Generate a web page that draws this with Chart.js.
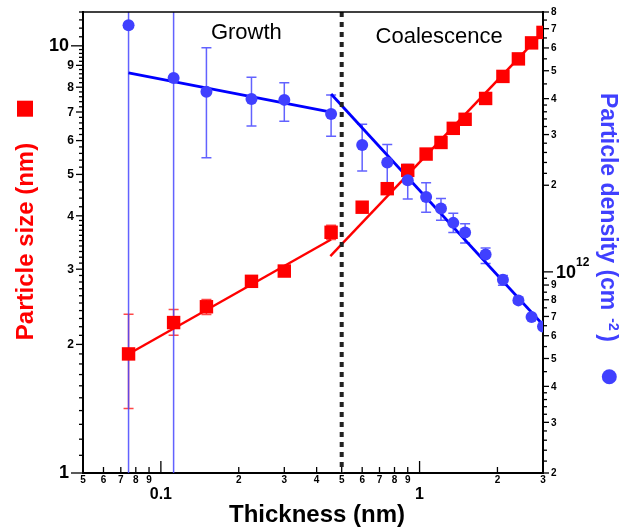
<!DOCTYPE html>
<html>
<head>
<meta charset="utf-8">
<script src="https://cdn.jsdelivr.net/npm/chart.js@4.4.1/dist/chart.umd.min.js"></script>
<style>
  html, body { margin: 0; padding: 0; background: #fff; }
</style>
</head>
<body>
<canvas id="chart" width="635" height="531"></canvas>
<script>
// Thickness (nm) - shared by both series
const thickness = [0.075, 0.112, 0.15, 0.224, 0.3, 0.455, 0.6, 0.75, 0.9, 1.06, 1.21, 1.35, 1.5, 1.8, 2.1, 2.41, 2.71, 3.0];

// Particle size (nm), left axis
const sizeValues = [1.9, 2.25, 2.45, 2.81, 2.97, 3.66, 4.19, 4.63, 5.11, 5.58, 5.94, 6.41, 6.73, 7.53, 8.48, 9.32, 10.16, 10.75];
const sizeErrLow = [1.415, 2.10, 2.35, 2.76, 2.93, 3.52, null, null, null, null, null, null, null, null, null, null, null, null];
const sizeErrHigh = [2.353, 2.413, 2.547, 2.86, 3.02, 3.80, null, null, null, null, null, null, null, null, null, null, null, null];

// Particle density (cm^-2), right axis
const densityValues = [7.19e12, 4.72e12, 4.23e12, 3.99e12, 3.96e12, 3.54e12, 2.76e12, 2.40e12, 2.08e12, 1.82e12, 1.66e12, 1.48e12, 1.37e12, 1.15e12, 9.38e11, 7.96e11, 6.97e11, 6.46e11];
const densityErrLow = [1e10, 1e10, 2.49e12, 3.21e12, 3.34e12, 2.96e12, 2.24e12, 2.02e12, 1.79e12, 1.61e12, 1.51e12, 1.37e12, 1.26e12, 1.07e12, 8.98e11, 7.8e11, null, null];
const densityErrHigh = [1e15, 1e15, 6.01e12, 4.75e12, 4.54e12, 4.12e12, 3.26e12, 2.77e12, 2.36e12, 2.04e12, 1.80e12, 1.60e12, 1.47e12, 1.21e12, 9.71e11, 8.15e11, null, null];

// Power-law fits (end points)
const sizeFitGrowthX = [0.075, 0.455];
const sizeFitGrowthY = [1.9, 3.52];
const sizeFitCoalX = [0.452, 3.0];
const sizeFitCoalY = [3.22, 10.75];
const densFitGrowthX = [0.075, 0.455];
const densFitGrowthY = [4.92e12, 3.59e12];
const densFitCoalX = [0.455, 3.0];
const densFitCoalY = [4.15e12, 6.55e11];

// Boundary between regimes and region labels
const boundary = 0.5;
const regionLabels = ['Growth', 'Coalescence'];
const regionLabelX = [0.214, 1.19];

// Tick values
const xDecades = [0.1, 1];
const xLabeled = [0.05, 0.06, 0.07, 0.08, 0.09, 0.2, 0.3, 0.4, 0.5, 0.6, 0.7, 0.8, 0.9, 2, 3];
const sizeDecades = [1, 10];
const sizeLabeled = [2, 3, 4, 5, 6, 7, 8, 9];
const sizeMinor = [1.1, 1.2, 1.3, 1.4, 1.5, 1.6, 1.7, 1.8, 1.9, 2.1, 2.2, 2.3, 2.4, 2.5, 2.6, 2.7, 2.8, 2.9,
  3.1, 3.2, 3.3, 3.4, 3.5, 3.6, 3.7, 3.8, 3.9, 4.2, 4.4, 4.6, 4.8, 5.2, 5.4, 5.6, 5.8, 6.2, 6.4, 6.6, 6.8,
  7.2, 7.4, 7.6, 7.8, 8.2, 8.4, 8.6, 8.8, 9.2, 9.4, 9.6, 9.8, 10.5, 11, 11.5, 12];
const densDecades = [1e12];
const densLabeled = [2e11, 3e11, 4e11, 5e11, 6e11, 7e11, 8e11, 9e11, 2e12, 3e12, 4e12, 5e12, 6e12, 7e12, 8e12];
const densMinorMant = [2.2, 2.4, 2.6, 2.8, 3.2, 3.4, 3.6, 3.8, 4.5, 5.5, 6.5, 7.5, 8.5, 9.5];

const RED = '#ff0000';
const BLUE = '#4040ff';
const FONT = '"Liberation Sans", Arial, sans-serif';

const pts = (xs, ys) => xs.map((x, i) => ({ x: x, y: ys[i] }));

function drawErrorBars(chart, scaleY, lo, hi, color) {
    const { ctx, chartArea: a } = chart;
    const sx = chart.scales.x;
    ctx.save();
    ctx.beginPath();
    ctx.rect(a.left, a.top, a.right - a.left, a.bottom - a.top);
    ctx.clip();
    ctx.strokeStyle = color;
    ctx.lineWidth = 1.5;
    thickness.forEach((t, i) => {
        if (lo[i] == null) return;
        const px = sx.getPixelForValue(t);
        const y1 = scaleY.getPixelForValue(lo[i]);
        const y2 = scaleY.getPixelForValue(hi[i]);
        ctx.beginPath();
        ctx.moveTo(px, y1); ctx.lineTo(px, y2);
        ctx.moveTo(px - 5, y1); ctx.lineTo(px + 5, y1);
        ctx.moveTo(px - 5, y2); ctx.lineTo(px + 5, y2);
        ctx.stroke();
    });
    ctx.restore();
}

function line(ctx, x1, y1, x2, y2) {
    ctx.beginPath();
    ctx.moveTo(x1, y1);
    ctx.lineTo(x2, y2);
    ctx.stroke();
}

const decorPlugin = {
    id: 'decor',
    beforeDatasetsDraw(chart) {
        drawErrorBars(chart, chart.scales.y, sizeErrLow, sizeErrHigh, 'rgba(255,40,40,0.85)');
        drawErrorBars(chart, chart.scales.y2, densityErrLow, densityErrHigh, 'rgba(70,70,255,0.85)');
    },
    afterDatasetsDraw(chart) {
        const { ctx, chartArea: a, scales } = chart;
        // regime boundary
        const bx = scales.x.getPixelForValue(boundary);
        ctx.save();
        ctx.strokeStyle = '#222';
        ctx.lineWidth = 4;
        ctx.setLineDash([5, 5]);
        line(ctx, bx, a.top, bx, a.bottom);
        ctx.restore();
    },
    afterDraw(chart) {
        const { ctx, chartArea: a, scales } = chart;
        const sx = scales.x, sy = scales.y, sy2 = scales.y2;
        ctx.save();
        ctx.strokeStyle = '#000';
        ctx.fillStyle = '#000';

        // top frame
        ctx.lineWidth = 1.5;
        line(ctx, a.left, a.top, a.right, a.top);

        ctx.lineWidth = 1.3;
        // x ticks (inward)
        ctx.textAlign = 'center';
        ctx.textBaseline = 'middle';
        ctx.font = 'bold 10px ' + FONT;
        xLabeled.forEach(v => {
            const p = sx.getPixelForValue(v);
            line(ctx, p, a.bottom, p, a.bottom - 6);
            const m = Math.round(v / Math.pow(10, Math.floor(Math.log10(v) + 1e-9)));
            ctx.fillText(String(m), p, a.bottom + 7);
        });
        ctx.font = 'bold 16px ' + FONT;
        xDecades.forEach(v => {
            const p = sx.getPixelForValue(v);
            line(ctx, p, a.bottom, p, a.bottom - 12);
            ctx.fillText(String(v), p, a.bottom + 22);
        });

        // left ticks
        ctx.textAlign = 'right';
        sizeMinor.forEach(v => {
            const p = sy.getPixelForValue(v);
            line(ctx, a.left - 4, p, a.left, p);
        });
        ctx.font = 'bold 12px ' + FONT;
        sizeLabeled.forEach(v => {
            const p = sy.getPixelForValue(v);
            line(ctx, a.left - 7, p, a.left, p);
            ctx.fillText(String(v), a.left - 9, p + 0.5);
        });
        ctx.font = 'bold 18px ' + FONT;
        sizeDecades.forEach(v => {
            const p = sy.getPixelForValue(v);
            line(ctx, a.left - 12, p, a.left, p);
            ctx.fillText(String(v), a.left - 14, p + 0.5);
        });

        // right ticks
        ctx.textAlign = 'left';
        [1e11, 1e12].forEach(dec => {
            densMinorMant.forEach(m => {
                const v = m * dec;
                if (v < sy2.min || v > sy2.max) return;
                const p = sy2.getPixelForValue(v);
                line(ctx, a.right, p, a.right + 4, p);
            });
        });
        ctx.font = 'bold 10px ' + FONT;
        densLabeled.forEach(v => {
            const p = sy2.getPixelForValue(v);
            line(ctx, a.right, p, a.right + 6, p);
            const m = Math.round(v / Math.pow(10, Math.floor(Math.log10(v) + 1e-9)));
            ctx.fillText(String(m), a.right + 8, p + 0.5);
        });
        densDecades.forEach(v => {
            const p = sy2.getPixelForValue(v);
            line(ctx, a.right, p, a.right + 10, p);
            ctx.font = 'bold 18px ' + FONT;
            ctx.fillText('10', a.right + 13, p + 1);
            ctx.font = 'bold 12px ' + FONT;
            ctx.fillText(String(Math.round(Math.log10(v))), a.right + 33, p - 9);
        });

        // region labels
        ctx.textAlign = 'center';
        ctx.textBaseline = 'alphabetic';
        ctx.font = '22px ' + FONT;
        ctx.fillText(regionLabels[0], sx.getPixelForValue(regionLabelX[0]), a.top + 27);
        ctx.fillText(regionLabels[1], sx.getPixelForValue(regionLabelX[1]), a.top + 31);

        // x title
        ctx.font = 'bold 24px ' + FONT;
        ctx.fillText('Thickness (nm)', 317, 522);

        // left title with marker
        ctx.fillStyle = RED;
        ctx.save();
        ctx.translate(33, 241.5);
        ctx.rotate(-Math.PI / 2);
        ctx.fillText('Particle size (nm)', 0, 0);
        ctx.restore();
        ctx.fillRect(17, 100.7, 16, 16);

        // right title with marker
        ctx.fillStyle = BLUE;
        ctx.save();
        ctx.translate(601, 93);
        ctx.rotate(Math.PI / 2);
        ctx.textAlign = 'left';
        ctx.font = 'bold 23px ' + FONT;
        const main = 'Particle density (cm';
        ctx.fillText(main, 0, 0);
        const w = ctx.measureText(main).width;
        ctx.font = 'bold 14px ' + FONT;
        ctx.fillText('-2', w + 8, -8);
        const w2 = ctx.measureText('-2').width;
        ctx.font = 'bold 23px ' + FONT;
        ctx.fillText(' )', w + 8 + w2 - 3, 0);
        ctx.restore();
        ctx.beginPath();
        ctx.arc(609.3, 376.7, 7.5, 0, Math.PI * 2);
        ctx.fill();

        ctx.restore();
    }
};

const axisBase = {
    type: 'logarithmic',
    grid: { display: false },
    ticks: { display: false },
    border: { display: true, color: '#000', width: 2 }
};

const chart = new Chart(document.getElementById('chart'), {
    type: 'scatter',
    data: {
        datasets: [
            {
                label: 'Particle density',
                data: pts(thickness, densityValues),
                yAxisID: 'y2',
                pointStyle: 'circle',
                pointRadius: 6,
                backgroundColor: BLUE,
                borderWidth: 0
            },
            {
                label: 'Particle size',
                data: pts(thickness, sizeValues),
                yAxisID: 'y',
                pointStyle: 'rect',
                pointRadius: 9.5,
                backgroundColor: RED,
                borderWidth: 0
            },
            {
                data: pts(densFitGrowthX, densFitGrowthY),
                yAxisID: 'y2', showLine: true, pointRadius: 0,
                borderColor: '#0000ff', borderWidth: 2.8
            },
            {
                data: pts(densFitCoalX, densFitCoalY),
                yAxisID: 'y2', showLine: true, pointRadius: 0,
                borderColor: '#0000ff', borderWidth: 2.8
            },
            {
                data: pts(sizeFitGrowthX, sizeFitGrowthY),
                yAxisID: 'y', showLine: true, pointRadius: 0,
                borderColor: RED, borderWidth: 2.4
            },
            {
                data: pts(sizeFitCoalX, sizeFitCoalY),
                yAxisID: 'y', showLine: true, pointRadius: 0,
                borderColor: RED, borderWidth: 2.4
            }
        ]
    },
    options: {
        responsive: false,
        animation: false,
        layout: { padding: { top: 12, left: 0, right: 0, bottom: 0 } },
        plugins: {
            legend: { display: false },
            tooltip: { enabled: false }
        },
        scales: {
            x: Object.assign({}, axisBase, {
                position: 'bottom', min: 0.05, max: 3,
                afterFit: s => { s.height = 58; }
            }),
            y: Object.assign({}, axisBase, {
                position: 'left', min: 1, max: 12,
                afterFit: s => { s.width = 83; }
            }),
            y2: Object.assign({}, axisBase, {
                position: 'right', min: 2e11, max: 8e12,
                afterFit: s => { s.width = 92; }
            })
        }
    },
    plugins: [decorPlugin]
});
</script>
</body>
</html>
